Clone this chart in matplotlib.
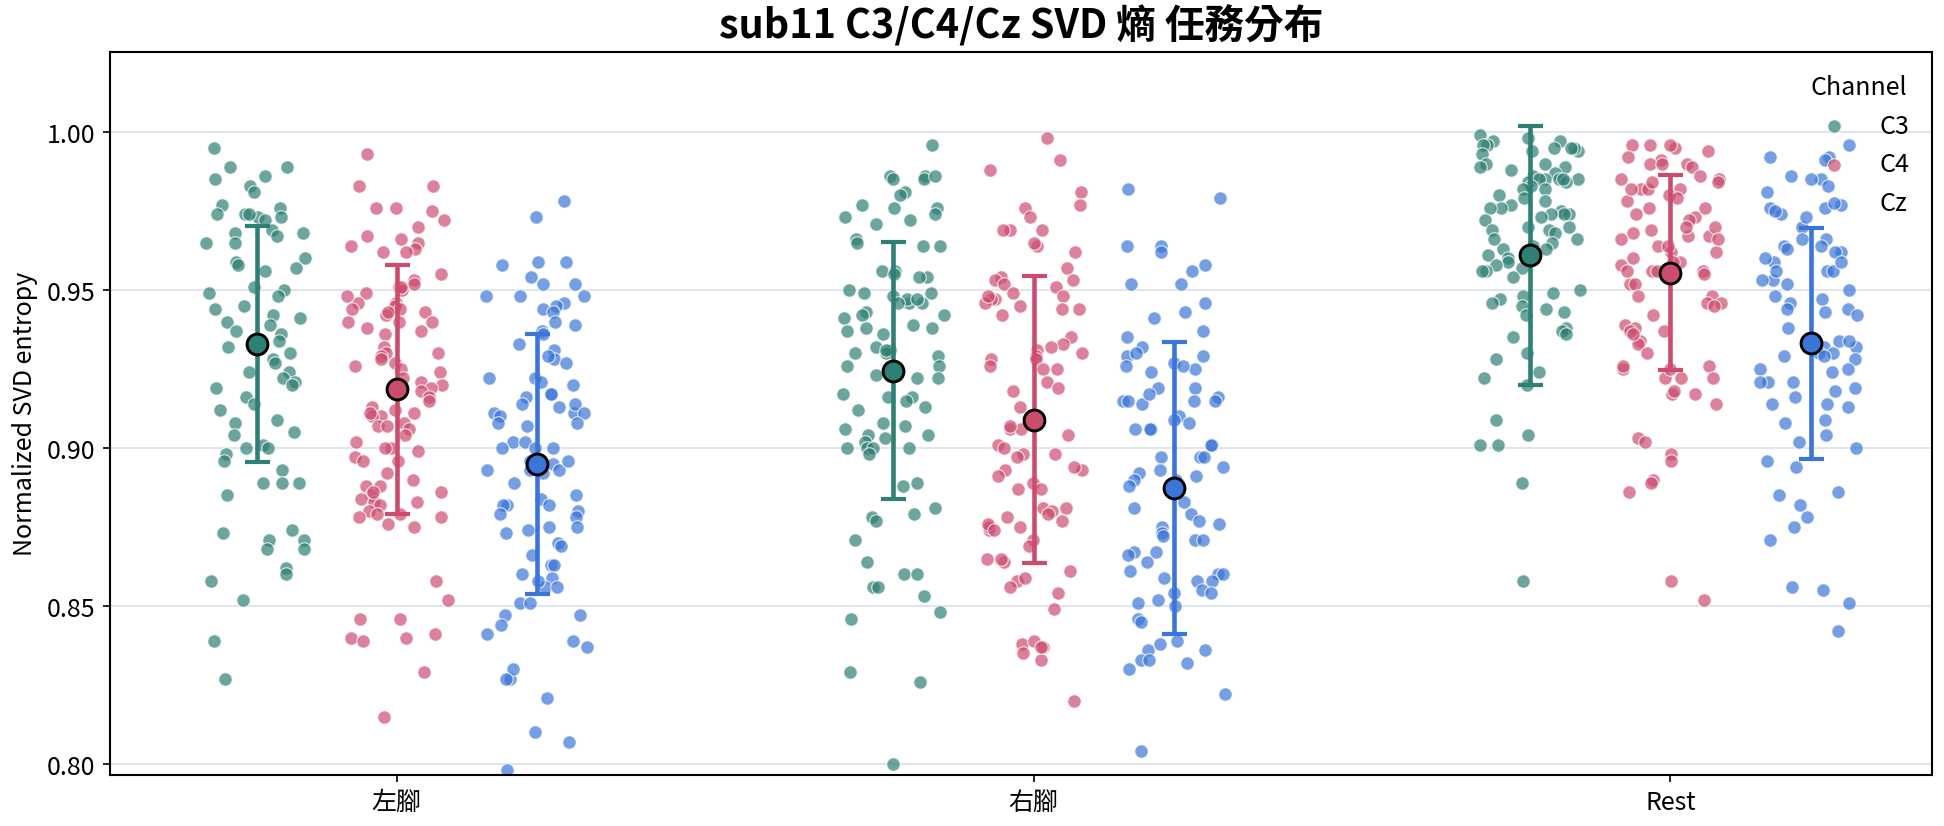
import numpy as np
import matplotlib
matplotlib.use("Agg")
import matplotlib.pyplot as plt

plt.rcParams['font.family'] = ['Noto Sans CJK TC', 'DejaVu Sans']

tasks = ['左腳', '右腳', 'Rest']
channels = ['C3', 'C4', 'Cz']
colors = {'C3': '#2e7f74', 'C4': '#cc4c6e', 'Cz': '#3b75d8'}

# values, one list per task/channel
left_c3 = [0.995, 0.989, 0.989, 0.986, 0.985, 0.983, 0.981, 0.977, 0.976, 0.974, 0.974, 0.973,
           0.974, 0.972, 0.973, 0.968, 0.968, 0.969, 0.967, 0.965, 0.965, 0.960, 0.959, 0.958,
           0.957, 0.956, 0.951, 0.950, 0.949, 0.948, 0.945, 0.944, 0.942, 0.941, 0.940, 0.939,
           0.937, 0.936, 0.934, 0.932, 0.930, 0.928, 0.927, 0.924, 0.924, 0.922, 0.921, 0.919,
           0.920, 0.916, 0.914, 0.912, 0.909, 0.908, 0.905, 0.904, 0.901, 0.900, 0.900, 0.898,
           0.896, 0.893, 0.889, 0.889, 0.889, 0.885, 0.874, 0.873, 0.871, 0.871, 0.868, 0.868,
           0.862, 0.860, 0.858, 0.852, 0.839, 0.827]
left_c4 = [0.993, 0.983, 0.983, 0.976, 0.976, 0.975, 0.972, 0.970, 0.967, 0.966, 0.965, 0.964,
           0.963, 0.962, 0.962, 0.953, 0.952, 0.951, 0.950, 0.949, 0.946, 0.946, 0.945, 0.944,
           0.943, 0.942, 0.940, 0.940, 0.938, 0.937, 0.936, 0.932, 0.930, 0.930, 0.929, 0.928,
           0.927, 0.926, 0.925, 0.924, 0.922, 0.921, 0.920, 0.919, 0.918, 0.916, 0.915, 0.913,
           0.912, 0.910, 0.910, 0.908, 0.907, 0.906, 0.904, 0.902, 0.900, 0.900, 0.899, 0.897,
           0.896, 0.896, 0.892, 0.890, 0.888, 0.888, 0.886, 0.885, 0.884, 0.883, 0.882, 0.880,
           0.879, 0.878, 0.878, 0.876, 0.875, 0.858, 0.852, 0.846, 0.846, 0.841, 0.840, 0.840,
           0.839, 0.829, 0.955, 0.951, 0.948, 0.944, 0.943, 0.940, 0.911, 0.911, 0.907, 0.886,
           0.883, 0.879, 0.815]
left_cz = [0.978, 0.973, 0.959, 0.959, 0.958, 0.954, 0.952, 0.952, 0.948, 0.948, 0.948, 0.946,
           0.945, 0.944, 0.943, 0.939, 0.940, 0.937, 0.936, 0.931, 0.933, 0.928, 0.929, 0.927,
           0.922, 0.922, 0.921, 0.920, 0.917, 0.917, 0.916, 0.914, 0.913, 0.911, 0.911, 0.914,
           0.911, 0.910, 0.908, 0.908, 0.907, 0.902, 0.902, 0.900, 0.900, 0.900, 0.895, 0.893,
           0.893, 0.896, 0.896, 0.893, 0.892, 0.889, 0.885, 0.882, 0.884, 0.882, 0.882, 0.880,
           0.878, 0.879, 0.875, 0.875, 0.873, 0.874, 0.870, 0.869, 0.866, 0.863, 0.863, 0.860,
           0.859, 0.856, 0.856, 0.858, 0.851, 0.851, 0.847, 0.847, 0.844, 0.841, 0.839, 0.837,
           0.827, 0.830, 0.827, 0.821, 0.810, 0.807, 0.798]
right_c3 = [0.996, 0.986, 0.986, 0.985, 0.986, 0.985, 0.981, 0.980, 0.977, 0.976, 0.976, 0.974,
            0.973, 0.972, 0.971, 0.966, 0.965, 0.964, 0.964, 0.956, 0.956, 0.955, 0.954, 0.954,
            0.950, 0.949, 0.949, 0.948, 0.946, 0.946, 0.947, 0.947, 0.946, 0.943, 0.942, 0.942,
            0.941, 0.939, 0.938, 0.938, 0.937, 0.936, 0.932, 0.931, 0.930, 0.929, 0.930, 0.926,
            0.926, 0.922, 0.923, 0.922, 0.917, 0.916, 0.916, 0.915, 0.913, 0.912, 0.908, 0.907,
            0.906, 0.904, 0.903, 0.904, 0.902, 0.900, 0.900, 0.900, 0.900, 0.898, 0.889, 0.888,
            0.881, 0.879, 0.878, 0.877, 0.871, 0.864, 0.860, 0.860, 0.856, 0.856, 0.853, 0.848,
            0.846, 0.829, 0.826, 0.800, 0.931]
right_c4 = [0.998, 0.991, 0.988, 0.981, 0.977, 0.976, 0.973, 0.969, 0.969, 0.969, 0.964, 0.962,
            0.965, 0.957, 0.954, 0.953, 0.953, 0.952, 0.951, 0.949, 0.947, 0.947, 0.948, 0.946,
            0.948, 0.944, 0.944, 0.945, 0.942, 0.935, 0.933, 0.932, 0.931, 0.929, 0.930, 0.928,
            0.928, 0.926, 0.925, 0.925, 0.921, 0.919, 0.918, 0.913, 0.906, 0.906, 0.907, 0.904,
            0.901, 0.900, 0.898, 0.898, 0.897, 0.893, 0.894, 0.893, 0.891, 0.889, 0.887, 0.887,
            0.881, 0.880, 0.881, 0.878, 0.879, 0.874, 0.875, 0.876, 0.874, 0.877, 0.875, 0.871,
            0.869, 0.864, 0.865, 0.865, 0.861, 0.858, 0.859, 0.856, 0.854, 0.849, 0.838, 0.839,
            0.835, 0.833, 0.837, 0.837, 0.820]
right_cz = [0.979, 0.982, 0.964, 0.964, 0.962, 0.958, 0.956, 0.952, 0.952, 0.946, 0.943, 0.941,
            0.937, 0.935, 0.932, 0.929, 0.929, 0.930, 0.927, 0.925, 0.926, 0.926, 0.924, 0.919,
            0.919, 0.914, 0.915, 0.917, 0.916, 0.915, 0.910, 0.915, 0.915, 0.906, 0.908, 0.906,
            0.909, 0.906, 0.901, 0.901, 0.897, 0.897, 0.897, 0.894, 0.893, 0.890, 0.892, 0.890,
            0.891, 0.888, 0.883, 0.881, 0.879, 0.877, 0.876, 0.875, 0.873, 0.872, 0.871, 0.871,
            0.867, 0.867, 0.866, 0.864, 0.858, 0.860, 0.860, 0.861, 0.859, 0.858, 0.854, 0.852,
            0.855, 0.854, 0.851, 0.850, 0.846, 0.845, 0.839, 0.836, 0.836, 0.838, 0.833, 0.832,
            0.833, 0.830, 0.822, 0.804]
rest_c3 = [0.997, 0.998, 0.999, 0.997, 0.996, 0.996, 0.994, 0.994, 0.995, 0.995, 0.995, 0.993,
           0.990, 0.990, 0.989, 0.989, 0.988, 0.987, 0.986, 0.985, 0.985, 0.985, 0.984, 0.984,
           0.985, 0.985, 0.983, 0.982, 0.982, 0.980, 0.979, 0.978, 0.977, 0.976, 0.976, 0.975,
           0.974, 0.974, 0.974, 0.973, 0.972, 0.970, 0.970, 0.969, 0.969, 0.968, 0.966, 0.966,
           0.965, 0.964, 0.963, 0.963, 0.962, 0.961, 0.960, 0.959, 0.958, 0.957, 0.956, 0.956,
           0.954, 0.950, 0.949, 0.948, 0.947, 0.946, 0.945, 0.944, 0.943, 0.942, 0.938, 0.937,
           0.936, 0.935, 0.930, 0.928, 0.924, 0.922, 0.920, 0.909, 0.904, 0.901, 0.901, 0.889,
           0.858]
rest_c4 = [0.995, 0.996, 0.996, 0.996, 0.992, 0.991, 0.990, 0.990, 0.989, 0.986, 0.985, 0.982,
           0.982, 0.982, 0.980, 0.979, 0.978, 0.976, 0.974, 0.973, 0.972, 0.969, 0.967, 0.968,
           0.966, 0.964, 0.967, 0.962, 0.962, 0.960, 0.959, 0.958, 0.956, 0.956, 0.952, 0.952,
           0.955, 0.948, 0.948, 0.946, 0.946, 0.942, 0.939, 0.938, 0.937, 0.934, 0.933, 0.930,
           0.926, 0.925, 0.922, 0.922, 0.917, 0.917, 0.914, 0.903, 0.902, 0.898, 0.896, 0.890,
           0.889, 0.886, 0.858, 0.852, 0.994, 0.990, 0.985, 0.984, 0.984, 0.982, 0.976, 0.970,
           0.970, 0.966, 0.964, 0.959, 0.956, 0.956, 0.945, 0.937, 0.936, 0.926, 0.925, 0.922,
           0.918]
rest_cz = [0.996, 0.992, 0.991, 0.985, 0.985, 0.981, 0.976, 0.976, 0.974, 0.970, 0.966, 0.964,
           0.964, 0.963, 0.959, 0.956, 0.956, 0.953, 0.952, 0.948, 0.947, 0.946, 0.944, 0.944,
           0.943, 0.932, 0.932, 0.930, 0.928, 0.930, 0.925, 0.921, 0.918, 0.916, 0.914, 0.914,
           0.909, 0.902, 0.900, 0.896, 0.894, 0.886, 0.882, 0.878, 0.875, 0.871, 0.856, 0.851,
           0.842, 0.986, 0.983, 0.977, 0.962, 0.960, 0.956, 0.942, 0.938, 0.934, 0.929, 0.925,
           0.921, 0.919, 0.934, 0.929, 0.924, 0.921, 0.913, 0.966, 0.962, 0.959, 0.953, 0.950,
           0.992, 0.975, 0.973, 0.908, 0.904, 0.885, 0.855]

# mean and sd shown by the big markers / error bars
means = {'左腳': [0.9329, 0.9185, 0.8949],
         '右腳': [0.9245, 0.9089, 0.8872],
         'Rest': [0.9609, 0.9555, 0.9331]}
sds = {'左腳': [0.0374, 0.0393, 0.0411],
       '右腳': [0.0407, 0.0454, 0.0462],
       'Rest': [0.0410, 0.0309, 0.0366]}

data = {'左腳': [left_c3, left_c4, left_cz],
        '右腳': [right_c3, right_c4, right_cz],
        'Rest': [rest_c3, rest_c4, rest_cz]}

fig = plt.figure(figsize=(12.96, 5.513), dpi=150)
ax = fig.add_axes([0.0566, 0.062, 0.937, 0.874])

rng = np.random.default_rng(3)
offsets = [-0.22, 0.0, 0.22]

for i, t in enumerate(tasks):
    for j, ch in enumerate(channels):
        vals = np.array(data[t][j])
        xs = i + offsets[j] + rng.uniform(-0.08, 0.08, len(vals))
        ax.scatter(xs, vals, s=42, color=colors[ch], alpha=0.7, edgecolor='white',
                   linewidth=0.6, zorder=2, label=ch if i == 0 else None)
        ax.errorbar(i + offsets[j], means[t][j], yerr=sds[t][j], fmt='none',
                    ecolor=colors[ch], elinewidth=2.2, capsize=6, capthick=2.0, zorder=3)
        ax.plot(i + offsets[j], means[t][j], 'o', ms=10, color=colors[ch],
                markeredgecolor='black', markeredgewidth=1.4, zorder=4)

ax.set_xlim(-0.45, 2.41)
ax.set_ylim(0.7966, 1.0253)
ax.set_xticks(range(len(tasks)))
ax.set_xticklabels(tasks)
ax.set_yticks([0.80, 0.85, 0.90, 0.95, 1.00])
ax.set_yticklabels(['0.80', '0.85', '0.90', '0.95', '1.00'])
ax.tick_params(labelsize=12)
ax.grid(axis='y', color='#dce4ec', linewidth=0.9)
ax.set_axisbelow(True)
for sp in ax.spines.values():
    sp.set_linewidth(1.0)

ax.set_ylabel('Normalized SVD entropy', fontsize=12)
ax.set_title('sub11 C3/C4/Cz SVD 熵 任務分布', fontsize=19, fontweight='bold', pad=7)

leg = ax.legend(title='Channel', loc='upper right', frameon=False, fontsize=12,
                title_fontsize=12, markerscale=1.0)

fig.savefig('out.png', dpi=150)
